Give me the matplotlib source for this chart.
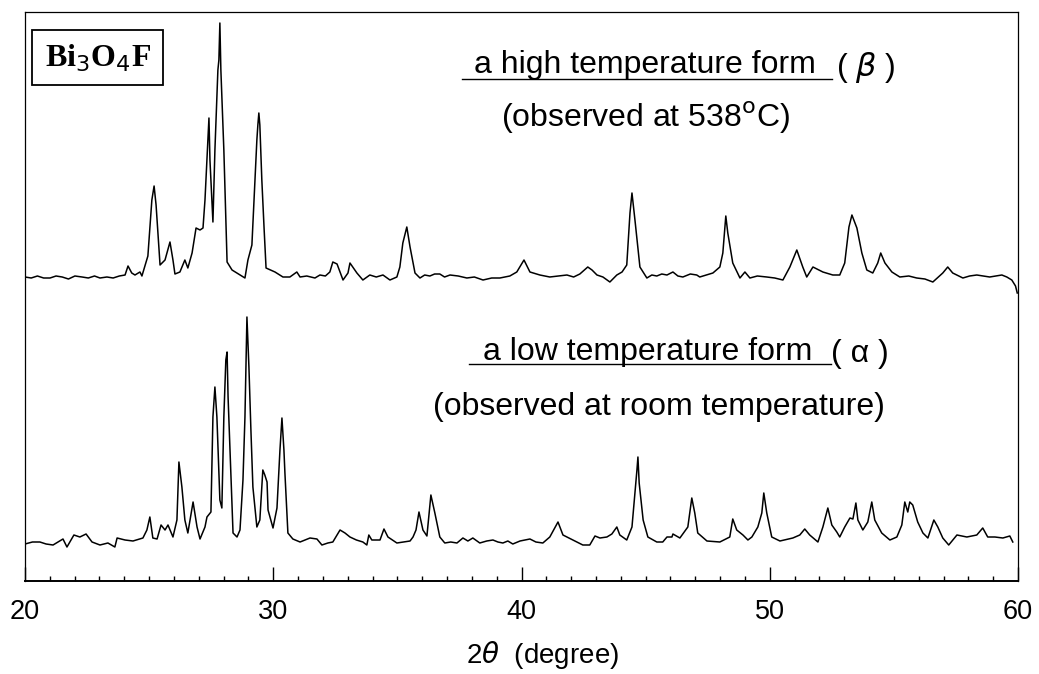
import matplotlib
matplotlib.use("Agg")
import matplotlib.pyplot as plt
from matplotlib.ticker import MultipleLocator
from matplotlib.patches import Rectangle
from matplotlib.lines import Line2D

# ---------------- data (2theta in degrees, intensity in arbitrary units) ----------------
two_theta_beta = [20.00, 20.25, 20.50, 20.75, 21.01, 21.25, 21.50, 21.75, 22.01, 22.30, 22.55, 22.80,
                  23.02, 23.30, 23.55, 23.80, 24.03, 24.15, 24.30, 24.43, 24.63, 24.71, 24.95, 25.11,
                  25.20, 25.28, 25.44, 25.64, 25.84, 25.96, 26.04, 26.24, 26.44, 26.56, 26.73, 26.89,
                  27.05, 27.17, 27.25, 27.33, 27.41, 27.45, 27.53, 27.57, 27.65, 27.77, 27.81, 27.85,
                  27.89, 28.01, 28.14, 28.34, 28.66, 28.86, 28.98, 29.14, 29.34, 29.38, 29.42, 29.46,
                  29.54, 29.63, 29.71, 30.07, 30.39, 30.67, 30.95, 31.08, 31.35, 31.68, 31.88, 32.10,
                  32.28, 32.40, 32.57, 32.69, 32.81, 33.01, 33.09, 33.37, 33.61, 33.89, 34.15, 34.42,
                  34.70, 34.98, 35.10, 35.22, 35.38, 35.51, 35.71, 35.91, 36.10, 36.31, 36.50, 36.71,
                  36.90, 37.12, 37.45, 37.80, 38.10, 38.45, 38.80, 39.13, 39.53, 39.81, 40.10, 40.34,
                  40.74, 41.14, 41.50, 41.83, 42.10, 42.35, 42.67, 42.84, 43.04, 43.28, 43.56, 43.84,
                  44.05, 44.24, 44.37, 44.45, 44.57, 44.77, 45.05, 45.25, 45.45, 45.65, 45.86, 46.10,
                  46.30, 46.50, 46.80, 47.06, 47.18, 47.45, 47.71, 47.99, 48.11, 48.23, 48.31, 48.51,
                  48.80, 49.00, 49.20, 49.50, 49.88, 50.20, 50.53, 50.81, 51.09, 51.33, 51.49, 51.74,
                  52.14, 52.54, 52.82, 53.02, 53.19, 53.31, 53.51, 53.71, 53.91, 54.15, 54.35, 54.47,
                  54.64, 54.92, 55.24, 55.60, 55.92, 56.25, 56.57, 56.97, 57.17, 57.37, 57.78, 58.05,
                  58.34, 58.60, 58.86, 59.10, 59.35, 59.55, 59.75, 59.90, 59.97]
intensity_beta = [13, 12, 14, 12, 12, 14, 13, 11, 14, 13, 12, 14,
                  12, 13, 12, 14, 15, 24, 17, 15, 18, 14, 34, 90,
                  104, 85, 25, 30, 48, 30, 16, 18, 30, 22, 37, 62,
                  60, 62, 90, 130, 172, 130, 90, 68, 140, 220, 230, 267,
                  220, 140, 28, 20, 15, 12, 30, 45, 150, 165, 177, 165,
                  110, 62, 22, 18, 13, 13, 18, 13, 14, 12, 15, 14,
                  18, 28, 26, 18, 10, 17, 27, 17, 10, 15, 13, 15,
                  10, 13, 23, 47, 63, 43, 17, 12, 15, 14, 16, 16,
                  13, 15, 14, 12, 13, 10, 12, 12, 14, 18, 30, 18,
                  15, 13, 14, 15, 13, 16, 23, 20, 15, 13, 8, 15,
                  18, 25, 77, 97, 70, 23, 12, 15, 14, 16, 15, 18,
                  14, 13, 16, 15, 13, 15, 17, 23, 37, 74, 57, 27,
                  12, 18, 12, 14, 13, 12, 10, 23, 40, 23, 13, 23,
                  18, 15, 15, 27, 63, 75, 62, 37, 20, 17, 27, 37,
                  27, 18, 13, 14, 12, 11, 8, 17, 23, 17, 12, 14,
                  15, 14, 13, 14, 15, 13, 10, 4, -3]

two_theta_alpha = [20.00, 20.30, 20.60, 20.85, 21.13, 21.53, 21.69, 21.97, 22.21, 22.46, 22.70, 23.02,
                   23.34, 23.62, 23.71, 24.03, 24.35, 24.75, 24.91, 25.03, 25.15, 25.32, 25.48, 25.64,
                   25.76, 25.96, 26.12, 26.20, 26.32, 26.44, 26.56, 26.77, 26.93, 27.05, 27.25, 27.33,
                   27.49, 27.57, 27.65, 27.73, 27.85, 27.93, 28.01, 28.09, 28.14, 28.18, 28.30, 28.38,
                   28.54, 28.66, 28.78, 28.86, 28.94, 29.02, 29.10, 29.18, 29.34, 29.46, 29.58, 29.66,
                   29.75, 29.79, 29.99, 30.15, 30.27, 30.35, 30.43, 30.47, 30.59, 30.79, 31.08, 31.28,
                   31.48, 31.76, 31.96, 32.20, 32.40, 32.69, 32.89, 33.09, 33.35, 33.61, 33.77, 33.85,
                   33.97, 34.30, 34.46, 34.62, 34.98, 35.25, 35.51, 35.63, 35.75, 35.87, 36.03, 36.19,
                   36.35, 36.51, 36.71, 36.91, 37.15, 37.40, 37.64, 37.84, 38.04, 38.32, 38.60, 38.85,
                   39.05, 39.25, 39.45, 39.65, 39.94, 40.34, 40.58, 40.86, 41.14, 41.47, 41.67, 42.07,
                   42.47, 42.75, 42.96, 43.16, 43.44, 43.64, 43.84, 43.96, 44.24, 44.45, 44.57, 44.65,
                   44.69, 44.74, 44.90, 45.09, 45.45, 45.69, 45.86, 46.06, 46.10, 46.38, 46.70, 46.86,
                   46.98, 47.10, 47.47, 47.99, 48.39, 48.51, 48.67, 48.92, 49.12, 49.28, 49.52, 49.68,
                   49.76, 49.88, 50.08, 50.41, 50.93, 51.21, 51.41, 51.61, 51.94, 52.14, 52.34, 52.50,
                   52.70, 52.82, 53.02, 53.23, 53.35, 53.47, 53.55, 53.75, 53.95, 54.11, 54.23, 54.51,
                   54.84, 55.12, 55.32, 55.44, 55.56, 55.64, 55.76, 55.96, 56.17, 56.37, 56.61, 56.77,
                   56.97, 57.21, 57.54, 57.94, 58.34, 58.58, 58.78, 59.07, 59.39, 59.67, 59.79]
intensity_alpha = [11, 13, 13, 11, 10, 16, 8, 20, 18, 21, 13, 10,
                   12, 8, 17, 15, 14, 17, 25, 38, 17, 16, 30, 25,
                   30, 18, 35, 93, 68, 35, 22, 53, 28, 16, 28, 38,
                   43, 138, 168, 138, 55, 47, 138, 195, 203, 158, 75, 22,
                   18, 25, 75, 138, 238, 188, 125, 68, 28, 35, 85, 80,
                   73, 45, 27, 47, 105, 137, 105, 82, 22, 16, 13, 15,
                   17, 16, 10, 12, 13, 25, 22, 18, 15, 13, 10, 20,
                   15, 15, 26, 18, 12, 13, 14, 18, 25, 43, 25, 19,
                   60, 42, 18, 12, 13, 12, 17, 14, 17, 12, 14, 15,
                   13, 12, 14, 11, 14, 16, 13, 12, 18, 33, 20, 15,
                   10, 10, 19, 17, 18, 21, 28, 20, 15, 28, 62, 85,
                   98, 72, 35, 18, 13, 13, 18, 18, 21, 17, 28, 57,
                   42, 22, 14, 13, 18, 36, 25, 20, 15, 18, 28, 42,
                   62, 42, 18, 14, 17, 20, 26, 20, 13, 28, 47, 30,
                   23, 18, 28, 37, 36, 52, 35, 25, 33, 53, 35, 22,
                   15, 18, 30, 53, 43, 53, 50, 33, 22, 17, 35, 28,
                   17, 10, 20, 18, 20, 27, 18, 18, 17, 19, 13]

x_ticks = [20, 30, 40, 50, 60]
x_tick_labels = ["20", "30", "40", "50", "60"]

# ---------------- figure ----------------
W, H = 1039, 674
fig = plt.figure(figsize=(W / 100, H / 100), dpi=100)
ax = fig.add_axes([25 / W, 1 - 581 / H, 993 / W, 569 / H])

offset_beta = 291
offset_alpha = 26
ax.plot(two_theta_beta, [v + offset_beta for v in intensity_beta], color="black", lw=1.1)
ax.plot(two_theta_alpha, [v + offset_alpha for v in intensity_alpha], color="black", lw=1.1)

ax.set_xlim(20, 60)
ax.set_ylim(0, 569)
ax.set_yticks([])
ax.set_xticks(x_ticks)
ax.set_xticklabels(x_tick_labels, fontfamily="Liberation Sans", fontsize=19.5)
ax.xaxis.set_minor_locator(MultipleLocator(1))
ax.tick_params(axis="x", which="major", direction="in", length=10, width=1.0, pad=13)
ax.tick_params(axis="x", which="minor", direction="in", length=3.5, width=1.0)
for s in ["left", "top", "right"]:
    ax.spines[s].set_linewidth(0.9)
ax.spines["bottom"].set_linewidth(1.4)


def fx(px):
    return px / W


def fy(py):
    return 1 - py / H


sans = "Liberation Sans"
# upper pattern labels
fig.text(fx(645), fy(73), "a high temperature form", fontfamily=sans, fontsize=23,
         ha="center", va="baseline")
fig.add_artist(Line2D([fx(462), fx(832)], [fy(79), fy(79)], color="black", lw=1.0))
fig.text(fx(836), fy(76), "( $\\beta$ )", fontfamily=sans, fontsize=23, ha="left", va="baseline")
fig.text(fx(645), fy(127), "(observed at 538$^{\\rm o}$C)", fontfamily=sans, fontsize=23,
         ha="center", va="baseline")

# lower pattern labels
fig.text(fx(648), fy(360), "a low temperature form", fontfamily=sans, fontsize=23,
         ha="center", va="baseline")
fig.add_artist(Line2D([fx(469), fx(831)], [fy(364), fy(364)], color="black", lw=1.0))
fig.text(fx(831), fy(362), "( α )", fontfamily=sans, fontsize=23, ha="left", va="baseline")
fig.text(fx(659), fy(415), "(observed at room temperature)", fontfamily=sans, fontsize=23,
         ha="center", va="baseline")

# compound box
fig.add_artist(Rectangle((fx(32), fy(85)), (163 - 32) / W, (85 - 30) / H,
                         transform=fig.transFigure, fill=False, edgecolor="black", lw=1.3))
fig.text(fx(98), fy(67), "Bi$_3$O$_4$F", fontfamily="Liberation Serif", fontweight="bold",
         fontsize=23, ha="center", va="baseline")

# x label
fig.text(fx(543), fy(655), "2$\\theta$  (degree)", fontfamily=sans, fontsize=20,
         ha="center", va="center")

fig.savefig("out.png", dpi=100)
